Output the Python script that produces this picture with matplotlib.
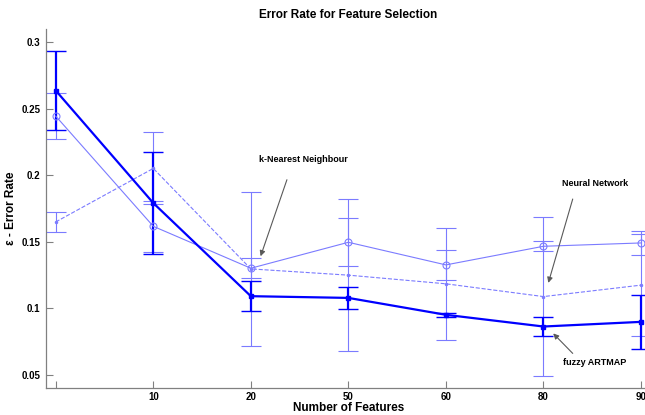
import numpy as np
import matplotlib
matplotlib.use('Agg')
import matplotlib.pyplot as plt

plt.rcParams['font.family'] = ['Liberation Sans', 'DejaVu Sans']

# number of features (first position has no label)
tick_labels = ['', '10', '20', '50', '60', '80', '90']

# fuzzy ARTMAP
artmap_mean = [0.2635, 0.179, 0.109, 0.1077, 0.095, 0.0862, 0.0897]
artmap_err = [0.0295, 0.0385, 0.0115, 0.008, 0.0015, 0.0068, 0.0205]

# k-Nearest Neighbour
knn_mean = [0.2443, 0.1615, 0.130, 0.1495, 0.1325, 0.1465, 0.149]
knn_err = [0.0175, 0.019, 0.0074, 0.018, 0.0115, 0.0037, 0.0088]

# Neural Network
nn_mean = [0.1648, 0.205, 0.1295, 0.1248, 0.1183, 0.1087, 0.1173]
nn_err = [0.0073, 0.027, 0.058, 0.057, 0.042, 0.0597, 0.0385]

x = np.arange(len(tick_labels))
light = '#7b7bff'
dark = '#0000ff'

fig = plt.figure(figsize=(6.45, 4.15), dpi=100)
ax = fig.add_axes([46 / 645, 27 / 415, 604.75 / 645, 359.3 / 415])

ax.errorbar(x, knn_mean, yerr=knn_err, color=light, lw=0.8, marker='o',
            ms=5, mfc='none', mew=0.8, capsize=7, elinewidth=0.8, capthick=0.8)
ax.errorbar(x, nn_mean, yerr=nn_err, color=light, lw=0.8, ls='--', marker='.',
            ms=3, capsize=7, elinewidth=0.8, capthick=0.8)
ax.errorbar(x, artmap_mean, yerr=artmap_err, color=dark, lw=1.6, marker='s',
            ms=3.5, mfc=dark, mew=1, capsize=7, elinewidth=1.6, capthick=1.6)

ax.set_xlim(-0.1, 6.1)
ax.set_ylim(0.04, 0.31)
ax.set_xticks(x)
ax.set_xticklabels(tick_labels)
ax.set_yticks([0.05, 0.1, 0.15, 0.2, 0.25, 0.3])
ax.set_yticklabels(['0.05', '0.1', '0.15', '0.2', '0.25', '0.3'])
ax.tick_params(direction='in', length=5, color='0.5', labelsize=7)
ax.tick_params(axis='x', pad=3)
ax.tick_params(axis='y', pad=4)
for lab in ax.get_xticklabels() + ax.get_yticklabels():
    lab.set_fontweight('bold')

for s in ['top', 'right']:
    ax.spines[s].set_visible(False)
for s in ['left', 'bottom']:
    ax.spines[s].set_color('0.5')
    ax.spines[s].set_linewidth(0.9)

ax.set_title('Error Rate for Feature Selection', fontsize=8.5, fontweight='bold', pad=8)
ax.set_xlabel('Number of Features', fontsize=8.5, fontweight='bold', labelpad=0)
ax.set_ylabel('ε - Error Rate', fontsize=8.5, fontweight='bold', labelpad=3)

arrow = dict(arrowstyle='-|>', color='0.35', lw=0.8, mutation_scale=8,
             shrinkA=0, shrinkB=0)
ax.annotate('', xy=(2.10, 0.139), xytext=(2.37, 0.1965), arrowprops=arrow)
ax.text(2.54, 0.212, 'k-Nearest Neighbour', fontsize=6.5, fontweight='bold',
        ha='center', va='center')
ax.annotate('', xy=(5.05, 0.119), xytext=(5.30, 0.182), arrowprops=arrow)
ax.text(5.53, 0.194, 'Neural Network', fontsize=6.5, fontweight='bold',
        ha='center', va='center')
ax.annotate('', xy=(5.10, 0.081), xytext=(5.30, 0.066), arrowprops=arrow)
ax.text(5.52, 0.0593, 'fuzzy ARTMAP', fontsize=6.5, fontweight='bold',
        ha='center', va='center')

fig.savefig('out.png', dpi=100)
